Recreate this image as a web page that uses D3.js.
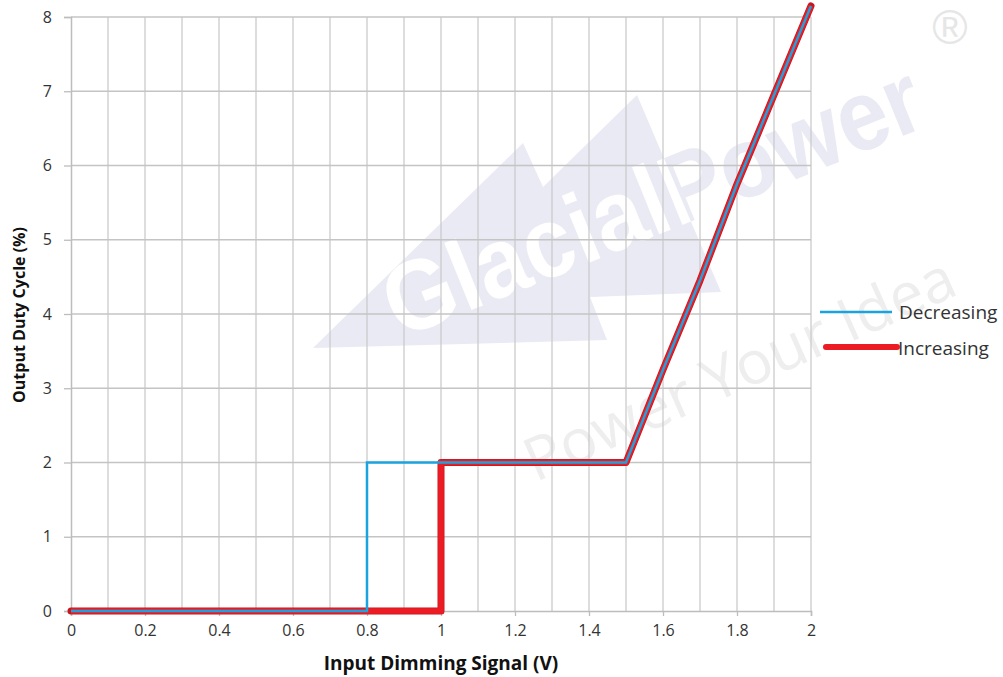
<!DOCTYPE html>
<html>
<head>
<meta charset="utf-8">
<script src="https://cdn.jsdelivr.net/npm/d3@7"></script>
<style>
  body { margin: 0; background: #fff; }
  svg { display: block; font-family: "Open Sans", "Noto Sans", sans-serif; }
</style>
</head>
<body>
<script>
// data
const decreasingX = [0, 0.8, 0.8, 1.5, 1.6, 1.7, 1.8, 1.9, 2.0];
const decreasingY = [0, 0, 2, 2, 3.25, 4.45, 5.75, 6.95, 8.15];
const increasingX = [0, 1.0, 1.0, 1.5, 1.6, 1.7, 1.8, 1.9, 2.0];
const increasingY = [0, 0, 2, 2, 3.25, 4.45, 5.75, 6.95, 8.15];
const xTicks = [0, 0.2, 0.4, 0.6, 0.8, 1, 1.2, 1.4, 1.6, 1.8, 2];
const xGrid = d3.range(1, 21).map(i => i / 10);
const yTicks = [0, 1, 2, 3, 4, 5, 6, 7, 8];
const seriesNames = ["Decreasing", "Increasing"];

const W = 1003, H = 677;
const margin = { top: 17, right: 192, bottom: 66, left: 71 };
const width = W - margin.left - margin.right,
      height = H - margin.top - margin.bottom;

const x = d3.scaleLinear().domain([0, 2]).range([0, width]);
const y = d3.scaleLinear().domain([0, 8]).range([height, 0]);

const svg = d3.select("body").append("svg")
    .attr("width", W)
    .attr("height", H);

// watermark (logo triangle with knocked-out lettering)
const tri = "M313,348 L523,143 L543,187 L637,95 L721,292 L590,297 L607,340 Z";
const logoTf = "translate(665,232) rotate(-22)";
const defs = svg.append("defs");
const logoText = sel => sel
    .attr("transform", logoTf)
    .attr("text-anchor", "middle")
    .attr("font-family", "Liberation Sans, sans-serif")
    .attr("font-weight", "bold")
    .attr("font-size", 100)
    .attr("textLength", 572)
    .attr("lengthAdjust", "spacingAndGlyphs")
    .text("GlacialPower");

const mTri = defs.append("mask").attr("id", "noText")
    .attr("maskUnits", "userSpaceOnUse")
    .attr("x", 0).attr("y", 0).attr("width", W).attr("height", H);
mTri.append("rect").attr("width", W).attr("height", H).attr("fill", "#fff");
mTri.append("text").call(logoText).attr("fill", "#000");

const mOut = defs.append("mask").attr("id", "noTri")
    .attr("maskUnits", "userSpaceOnUse")
    .attr("x", 0).attr("y", 0).attr("width", W).attr("height", H);
mOut.append("rect").attr("width", W).attr("height", H).attr("fill", "#fff");
mOut.append("path").attr("d", tri).attr("fill", "#000");

const wm = svg.append("g");
wm.append("g").attr("mask", "url(#noText)")
  .append("path").attr("d", tri).attr("fill", "#e9eaf3");
wm.append("g").attr("mask", "url(#noTri)")
  .append("text").call(logoText).attr("fill", "#e9eaf3");
wm.append("text")
    .attr("transform", "translate(748,388) rotate(-24)")
    .attr("text-anchor", "middle")
    .attr("font-family", "Open Sans, sans-serif")
    .attr("font-size", 60)
    .attr("textLength", 465)
    .attr("lengthAdjust", "spacingAndGlyphs")
    .attr("fill", "#eeeeee")
    .text("Power Your Idea");
wm.append("text")
    .attr("x", 950).attr("y", 44)
    .attr("text-anchor", "middle")
    .attr("font-family", "Liberation Sans, sans-serif")
    .attr("font-size", 48)
    .attr("fill", "#e6e6e6")
    .text("®");

const g = svg.append("g")
    .attr("transform", `translate(${margin.left},${margin.top})`);

// grid
g.append("g").selectAll("line").data(xGrid).join("line")
    .attr("x1", d => x(d)).attr("x2", d => x(d))
    .attr("y1", 0).attr("y2", height)
    .attr("stroke", "#cbcbcb").attr("stroke-width", 1.3);
g.append("g").selectAll("line").data(yTicks.slice(1)).join("line")
    .attr("x1", 0).attr("x2", width)
    .attr("y1", d => y(d)).attr("y2", d => y(d))
    .attr("stroke", "#c4c4c4").attr("stroke-width", 1.3);

// axes
const xAxis = g.append("g")
    .attr("transform", `translate(0,${height})`)
    .call(d3.axisBottom(x).tickValues(xTicks).tickFormat(d3.format("")).tickSize(5).tickPadding(9));
const yAxis = g.append("g")
    .call(d3.axisLeft(y).tickValues(yTicks).tickSize(7).tickPadding(12));
[xAxis, yAxis].forEach(a => {
  a.select(".domain").attr("stroke", "#bdbdbd").attr("stroke-width", 1.5);
  a.selectAll(".tick line").attr("stroke", "#bdbdbd").attr("stroke-width", 1.3);
  a.selectAll(".tick text").attr("font-size", 16).attr("fill", "#333")
      .attr("font-family", "Open Sans, sans-serif");
});

// series
const line = d3.line().x(d => x(d[0])).y(d => y(d[1]));
const incData = increasingX.map((v, i) => [v, increasingY[i]]);
const decData = decreasingX.map((v, i) => [v, decreasingY[i]]);

g.append("path").datum(incData)
    .attr("d", line)
    .attr("fill", "none")
    .attr("stroke", "#c8161e")
    .attr("stroke-width", 7)
    .attr("stroke-linejoin", "round")
    .attr("stroke-linecap", "round");
g.append("path").datum(incData)
    .attr("d", line)
    .attr("fill", "none")
    .attr("stroke", "#ec1c24")
    .attr("stroke-width", 5.5);
g.append("path").datum(decData)
    .attr("d", line)
    .attr("fill", "none")
    .attr("stroke", "#1ba3e0")
    .attr("stroke-width", 2.5);

// legend
const leg = svg.append("g");
leg.append("line").attr("x1", 820).attr("x2", 892).attr("y1", 312).attr("y2", 312)
    .attr("stroke", "#1ba3e0").attr("stroke-width", 2.5);
leg.append("line").attr("x1", 826).attr("x2", 897).attr("y1", 347).attr("y2", 347)
    .attr("stroke", "#ec1c24").attr("stroke-width", 6).attr("stroke-linecap", "round");
leg.selectAll("text").data(seriesNames).join("text")
    .attr("x", (d, i) => i === 0 ? 899 : 898)
    .attr("y", (d, i) => i === 0 ? 319 : 355)
    .attr("font-size", 19)
    .attr("fill", "#333")
    .text(d => d);

// axis titles
svg.append("text")
    .attr("x", margin.left + 370).attr("y", 670)
    .attr("text-anchor", "middle")
    .attr("font-weight", "bold").attr("font-size", 19).attr("fill", "#111")
    .text("Input Dimming Signal (V)");
svg.append("text")
    .attr("transform", "translate(25,315) rotate(-90)")
    .attr("text-anchor", "middle")
    .attr("font-weight", "bold").attr("font-size", 16).attr("fill", "#111")
    .text("Output Duty Cycle (%)");
</script>
</body>
</html>
